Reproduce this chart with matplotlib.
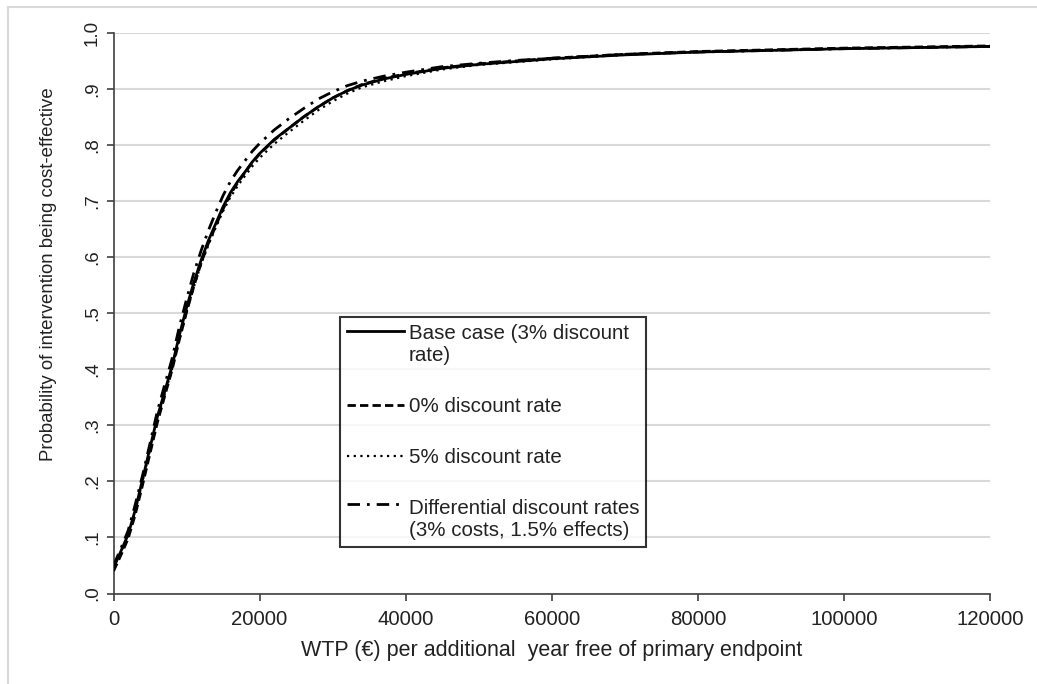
import matplotlib
matplotlib.use("Agg")
import matplotlib.pyplot as plt
from matplotlib.lines import Line2D
from matplotlib.legend_handler import HandlerLine2D

plt.rcParams['font.family'] = ['Liberation Sans', 'DejaVu Sans']

wtp = [0, 1000, 2000, 3000, 4000, 5000, 6000, 7000, 8000, 9000, 10000, 11000, 12000, 13000,
       14000, 15000, 16000, 17000, 18000, 19000, 20000, 22000, 24000, 26000, 28000, 30000,
       32000, 34000, 37000, 40000, 45000, 50000, 55000, 60000, 70000, 80000, 90000, 100000,
       110000, 120000]

base_case = [0.046, 0.075, 0.105, 0.15, 0.205, 0.26, 0.315, 0.36, 0.405, 0.46, 0.51, 0.555, 0.595,
             0.63, 0.66, 0.69, 0.715, 0.735, 0.752, 0.77, 0.785, 0.81, 0.83, 0.85, 0.868, 0.884,
             0.897, 0.907, 0.918, 0.926, 0.937, 0.944, 0.949, 0.954, 0.961, 0.966, 0.969, 0.972,
             0.974, 0.976]
rate_0 = [0.040, 0.068, 0.098, 0.142, 0.195, 0.25, 0.305, 0.352, 0.398, 0.452, 0.502, 0.548, 0.59,
          0.625, 0.656, 0.686, 0.712, 0.733, 0.751, 0.769, 0.784, 0.809, 0.83, 0.85, 0.868, 0.884,
          0.897, 0.908, 0.919, 0.927, 0.938, 0.945, 0.95, 0.955, 0.962, 0.967, 0.970, 0.973,
          0.975, 0.977]
rate_5 = [0.046, 0.074, 0.103, 0.148, 0.202, 0.256, 0.31, 0.355, 0.4, 0.453, 0.502, 0.547, 0.588,
          0.622, 0.653, 0.682, 0.707, 0.727, 0.745, 0.762, 0.777, 0.802, 0.823, 0.843, 0.862, 0.878,
          0.892, 0.903, 0.914, 0.923, 0.935, 0.943, 0.948, 0.953, 0.961, 0.966, 0.969, 0.972,
          0.974, 0.976]
differential = [0.05, 0.08, 0.112, 0.16, 0.212, 0.268, 0.325, 0.372, 0.418, 0.475, 0.525, 0.572,
                0.612, 0.648, 0.68, 0.71, 0.735, 0.755, 0.772, 0.789, 0.803, 0.827, 0.847, 0.865,
                0.882, 0.895, 0.906, 0.914, 0.923, 0.93, 0.94, 0.946, 0.951, 0.955, 0.962, 0.966,
                0.969, 0.972, 0.974, 0.976]

labels = ["Base case (3% discount\nrate)", "0% discount rate", "5% discount rate",
          "Differential discount rates\n(3% costs, 1.5% effects)"]
x_ticks = [0, 20000, 40000, 60000, 80000, 100000, 120000]
y_ticks = [0.0, 0.1, 0.2, 0.3, 0.4, 0.5, 0.6, 0.7, 0.8, 0.9, 1.0]
y_tick_labels = [".0", ".1", ".2", ".3", ".4", ".5", ".6", ".7", ".8", ".9", "1.0"]


class TopLineHandler(HandlerLine2D):
    """Place the legend line next to the first line of a multi-line label."""
    def __init__(self, shift=0.0, **kw):
        super().__init__(**kw)
        self.shift = shift

    def create_artists(self, legend, orig_handle, xdescent, ydescent, width, height,
                       fontsize, trans):
        arts = super().create_artists(legend, orig_handle, xdescent, ydescent, width, height,
                                      fontsize, trans)
        for a in arts:
            if isinstance(a, Line2D):
                a.set_ydata([y + self.shift * fontsize for y in a.get_ydata()])
        return arts


fig = plt.figure(figsize=(10.37, 6.84), dpi=100)
ax = fig.add_axes([113.5/1037, 1-593.5/684, (990-113.5)/1037, (593.5-33)/684])

lw = 2.0
l0, = ax.plot(wtp, base_case, color='black', lw=lw, linestyle='-', label=labels[0], zorder=3)
l1, = ax.plot(wtp, rate_0, color='black', lw=lw, linestyle=(0, (3, 1.5)), label=labels[1], zorder=3)
l2, = ax.plot(wtp, rate_5, color='black', lw=1.6, linestyle=(0, (1, 2)), label=labels[2], zorder=3)
l3, = ax.plot(wtp, differential, color='black', lw=lw, linestyle=(0, (4.5, 2.5, 1, 2.5)),
              label=labels[3], zorder=3)

ax.set_xlim(0, 120000)
ax.set_ylim(0, 1.0)
ax.set_xticks(x_ticks)
ax.set_xticklabels([str(v) for v in x_ticks])
ax.set_yticks(y_ticks)
ax.set_yticklabels(y_tick_labels, rotation=90, va='center')

ax.grid(axis='y', color='#d9d9d9', lw=1.5)
ax.set_axisbelow(True)
for s in ['top', 'right']:
    ax.spines[s].set_visible(False)
for s in ['left', 'bottom']:
    ax.spines[s].set_color('#404040')
    ax.spines[s].set_linewidth(1.2)
ax.tick_params(axis='both', direction='out', length=5, width=1.2, color='#404040',
               labelcolor='#222222')
ax.tick_params(axis='x', labelsize=14.7, pad=7)
ax.tick_params(axis='y', labelsize=13.5, pad=4)

ax.set_xlabel("WTP (€) per additional  year free of primary endpoint", fontsize=15.5,
              color='#222222', labelpad=8)
ax.set_ylabel("Probability of intervention being cost-effective", fontsize=13.4,
              color='#222222')
ax.yaxis.set_label_coords((57-113.5)/876.5, (593.5-274)/560.5)

leg = ax.legend(handles=[l0, l1, l2, l3], loc='center',
                bbox_to_anchor=((493-113.5)/876.5, (593.5-432)/560.5), borderaxespad=0,
                frameon=True, fancybox=False, edgecolor='black', fontsize=14.8,
                handlelength=2.8, handletextpad=0.22, labelspacing=1.55, borderpad=0.35,
                handler_map={l0: TopLineHandler(0.69), l3: TopLineHandler(0.77)})
leg.get_frame().set_linewidth(1.5)
for t in leg.get_texts():
    t.set_linespacing(1.2)
    t.set_color('#222222')

fig.add_artist(Line2D([8/1037, 8/1037], [0, 1-7/684], transform=fig.transFigure,
                      color='#d9d9d9', lw=1.5))
fig.add_artist(Line2D([8/1037, 1], [1-7/684, 1-7/684], transform=fig.transFigure,
                      color='#d9d9d9', lw=1.5))

fig.savefig("out.png", dpi=100)
